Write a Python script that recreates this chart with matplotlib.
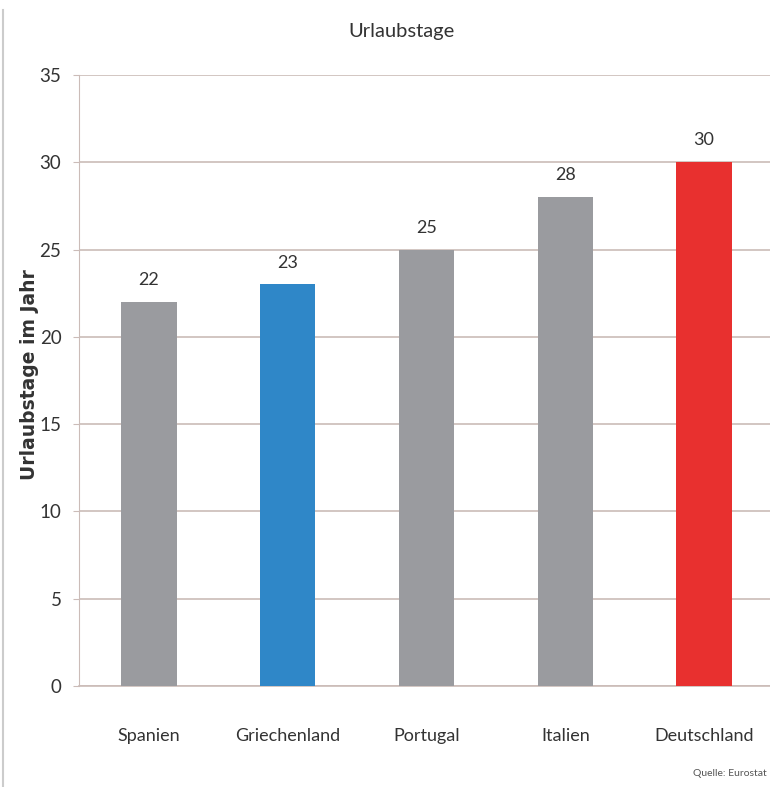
import matplotlib
matplotlib.use("Agg")
import matplotlib.pyplot as plt
from matplotlib.lines import Line2D

plt.rcParams['font.family'] = ['Lato', 'DejaVu Sans']

# data
laender = ['Spanien', 'Griechenland', 'Portugal', 'Italien', 'Deutschland']
tage = [22, 23, 25, 28, 30]
farben = ['#9a9b9f', '#2f87c8', '#9a9b9f', '#9a9b9f', '#e8302f']
y_ticks = [0, 5, 10, 15, 20, 25, 30, 35]

fig = plt.figure(figsize=(7.7, 7.87), dpi=100)
ax = fig.add_axes([0.1032, 0.1283, 0.9013, 0.7764])

x = range(len(laender))
ax.bar(x, tage, width=0.40, color=farben, zorder=3)
for xi, v in zip(x, tage):
    ax.text(xi, v + 0.8, str(v), ha='center', va='bottom', fontsize=13, color='#333333')

ax.set_xlim(-0.5, len(laender) - 0.5)
ax.set_ylim(0, 35)
ax.set_yticks(y_ticks)
ax.yaxis.grid(True, color='#cbbcb8', linewidth=1.2, zorder=0)
ax.set_xticks(x)
ax.set_xticklabels(laender, fontsize=13, color='#333333')
ax.tick_params(axis='x', length=0, pad=30)
ax.tick_params(axis='y', labelsize=13.5, labelcolor='#333333', length=4, color='#cbbcb8', pad=9)
for s in ['top', 'right']:
    ax.spines[s].set_visible(False)
ax.spines['left'].set_color('#cbbcb8')
ax.spines['bottom'].set_color('#cbbcb8')
ax.spines['bottom'].set_linewidth(1.2)

fig.text(30 / 770, 1 - 375 / 787, 'Urlaubstage im Jahr', rotation=90, ha='center', va='center',
         fontsize=13.5, fontweight='bold', family='DejaVu Sans', color='#333333')

fig.text(402 / 770, 1 - 32 / 787, 'Urlaubstage', ha='center', va='center',
         fontsize=14.5, color='#333333')
fig.text(767 / 770, 1 - 773 / 787, 'Quelle: Eurostat', ha='right', va='center',
         fontsize=7.5, color='#555555')

fig.add_artist(Line2D([3 / 770, 3 / 770], [0, 1 - 10 / 787], color='#cccccc',
                      linewidth=1.5, transform=fig.transFigure))

fig.savefig('out.png', dpi=100)
